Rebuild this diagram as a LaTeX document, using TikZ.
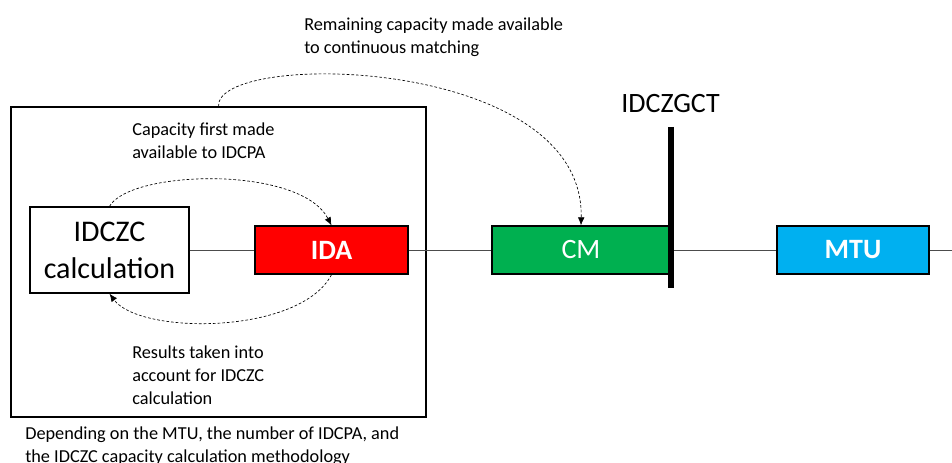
\documentclass[tikz,border=0pt]{standalone}
\usepackage{fontspec}
\setmainfont{Carlito}
\usetikzlibrary{arrows.meta}
\definecolor{idared}{RGB}{255,0,0}
\definecolor{cmgreen}{RGB}{0,176,80}
\definecolor{mtublue}{RGB}{0,176,240}
\begin{document}
\begin{tikzpicture}[x=0.75pt, y=-0.75pt,
    box/.style={draw, line width=1pt, inner sep=0pt, minimum height=36pt},
    phase/.style={box, text=white},
    note/.style={anchor=base west, align=left, inner sep=0pt, font=\fontsize{13.7}{17.25}\selectfont},
    flow/.style={dash pattern=on 2pt off 1.5pt, line width=0.5pt, -{Latex[length=6pt,width=5pt]}}]
    \useasboundingbox (0,0) rectangle (952,463);
    % outer box
    \node[draw, line width=0.8pt, minimum width=311.25pt, minimum height=232.5pt, inner sep=0pt] (loop) at (218.5,262) {};
    \node[box, minimum width=119.25pt, minimum height=64.5pt, align=center, font=\fontsize{22.5}{27.75}\selectfont] (calc) at (109.5,250) {IDCZC\\calculation};
    \node[phase, fill=idared, minimum width=114.75pt, font=\fontsize{21}{25}\selectfont\bfseries] (ida) at (331.5,250) {IDA};
    \node[phase, fill=cmgreen, minimum width=133.5pt, font=\fontsize{21}{25}\selectfont] (cm) at (581,250) {CM};
    \node[phase, fill=mtublue, minimum width=114pt, font=\fontsize{21}{25}\selectfont\bfseries] (mtu) at (853,250) {MTU};
    \coordinate (lineend) at (952,250);
    \draw[line width=0.6pt, black!70] (calc) -- (ida) -- (cm) -- (mtu) -- (lineend);
    % gate closure
    \coordinate (gtop) at (671,127);
    \coordinate (gbot) at (671,288);
    \draw[line width=4.5pt] (gtop) -- (gbot);
    \node[anchor=base, inner sep=0pt, font=\fontsize{21}{25}\selectfont] (gct) at (670.5,113) {IDCZGCT};
    % flows
    \draw[flow] (calc.north) .. controls (130,170) and (300,165) .. (ida.north);
    \draw[flow] (ida.south) .. controls (300,335) and (140,335) .. (calc.south);
    \draw[flow] (loop.north) .. controls (215,50) and (585,55) .. (cm.north);
    % notes (base = last line)
    \node[note] (first) at (132,159) {Capacity first made\\available to IDCPA};
    \node[note] (results) at (132,404) {Results taken into\\account for IDCZC\\calculation};
    \node[note] (remain) at (304,54) {Remaining capacity made available\\to continuous matching};
    \node[note] (depend) at (25,462) {Depending on the MTU, the number of IDCPA, and\\the IDCZC capacity calculation methodology};
\end{tikzpicture}
\end{document}
